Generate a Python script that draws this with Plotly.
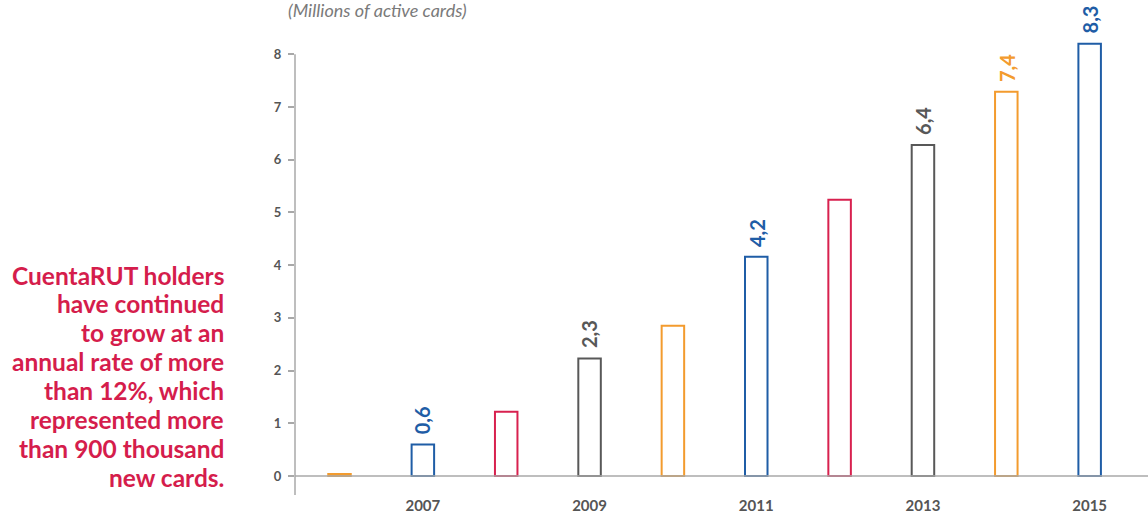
import plotly.graph_objects as go

years = [2006, 2007, 2008, 2009, 2010, 2011, 2012, 2013, 2014, 2015]
values = [0.04, 0.6, 1.22, 2.23, 2.85, 4.16, 5.24, 6.28, 7.29, 8.2]
colors = ["#f39b2e", "#1f5da6", "#d8214f", "#585858", "#f39b2e",
          "#1f5da6", "#d8214f", "#585858", "#f39b2e", "#1f5da6"]
label_years = [2007, 2009, 2011, 2013, 2014, 2015]
label_text = ["0,6", "2,3", "4,2", "6,4", "7,4", "8,3"]
x_ticks = [2007, 2009, 2011, 2013, 2015]
y_ticks = [0, 1, 2, 3, 4, 5, 6, 7, 8]
title_text = "(Millions of active cards)"
side_lines = ["CuentaRUT holders", "have continued", "to grow at an",
              "annual rate of more", "than 12%, which", "represented more",
              "than 900 thousand", "new cards."]

Y_LO, Y_HI = -0.36, 8.5
UNIT = 52.78  # px per unit
W, H = 1148, 513
B = 18
top_px = 476.5 - Y_HI * UNIT
L, R, T = 295, 0, top_px
pw, ph = W - L - R, H - T - B


def px(x):
    return (x - L) / pw


def py(y):
    return (H - B - y) / ph


fig = go.Figure()
fig.add_trace(go.Bar(
    x=years, y=values, width=0.27, cliponaxis=False,
    marker=dict(color="white", line=dict(color=colors, width=2)),
    hoverinfo="x+y",
))

annotations = []
for yr, txt in zip(label_years, label_text):
    i = years.index(yr)
    annotations.append(dict(
        x=yr, y=values[i], xref="x", yref="y", text=txt, showarrow=False,
        textangle=-90, yanchor="bottom", xanchor="center", yshift=8,
        font=dict(family="Lato", size=20, color=colors[i], weight="bold"),
    ))

annotations.append(dict(
    x=px(286), y=py(10), xref="paper", yref="paper", text="<i>" + title_text + "</i>",
    showarrow=False, xanchor="left", yanchor="middle",
    font=dict(family="Lato", size=18, color="#7a7a7a"),
))
for k, line in enumerate(side_lines):
    annotations.append(dict(
        x=px(226), y=py(275 + k * 28.9), xref="paper", yref="paper", text=line,
        showarrow=False, xanchor="right", yanchor="middle", align="right",
        font=dict(family="Lato", size=24.5, color="#d51d4c", weight="bold"),
    ))

fig.update_layout(
    width=W, height=H,
    margin=dict(l=L, r=R, t=T, b=B, pad=0),
    paper_bgcolor="white", plot_bgcolor="white",
    showlegend=False,
    annotations=annotations,
    shapes=[
        dict(type="line", xref="paper", yref="y", x0=0, x1=1, y0=0, y1=0,
             line=dict(color="#a8a8a8", width=1.5)),
        dict(type="line", xref="paper", yref="y", x0=0, x1=0, y0=Y_LO, y1=y_ticks[-1],
             line=dict(color="#a8a8a8", width=1.5)),
    ],
    xaxis=dict(
        range=[2005.466, 2015.70], tickvals=x_ticks, ticktext=[str(v) for v in x_ticks],
        showgrid=False, zeroline=False, showline=False, ticks="",
        tickfont=dict(family="Lato", size=15, color="#555555", weight="bold"),
    ),
    yaxis=dict(
        range=[Y_LO, Y_HI], tickvals=y_ticks, ticktext=[str(v) for v in y_ticks],
        showgrid=False, zeroline=False, showline=False,
        ticks="outside", ticklen=6, tickcolor="#a8a8a8", tickwidth=1.5,
        ticklabelstandoff=4,
        tickfont=dict(family="Lato", size=13, color="#555555", weight="bold"),
    ),
)

fig.write_html(
    "out.html",
    config={"displayModeBar": False},
    post_script="document.body.style.margin='0';document.body.style.overflow='hidden';",
)
